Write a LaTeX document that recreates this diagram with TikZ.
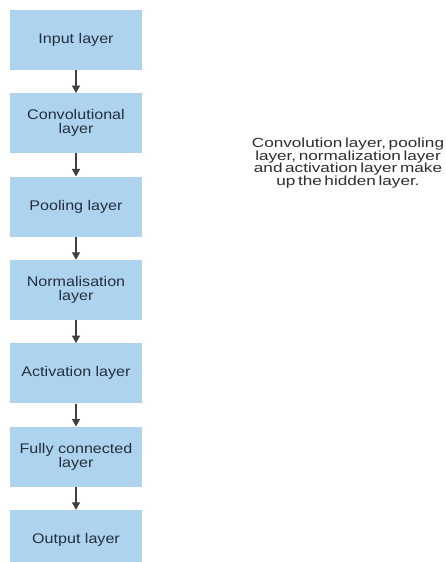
\documentclass[tikz,border=0pt]{standalone}
\usepackage{fontspec}
\setmainfont{Liberation Sans}
\newfontfamily\boxfont[FakeStretch=1.15]{Liberation Sans}
\newfontfamily\notefont[FakeStretch=1.3,WordSpace=0.55]{Liberation Sans}
\newcommand\mynotesetup{\notefont\fontsize{13.2bp}{12.8bp}\selectfont\lineskiplimit=-20bp\relax}
\usetikzlibrary{arrows.meta}
\definecolor{boxblue}{HTML}{AED3EF}
\definecolor{boxtext}{HTML}{22303F}
\definecolor{arrowgray}{HTML}{404040}
\definecolor{notetext}{HTML}{2E2E2E}
\tikzset{
  layerbox/.style={fill=boxblue, draw=none, minimum width=132bp, minimum height=60bp,
    inner sep=0pt, align=center, text=boxtext,
    font=\boxfont\fontsize{14bp}{14bp}\selectfont},
  flowarrow/.style={draw=arrowgray, line width=1.3bp, -{Triangle[length=7.5bp,width=8bp]}},
  notebox/.style={align=center, text=notetext, inner sep=0pt, font=\mynotesetup}
}
\begin{document}
\begin{tikzpicture}[x=1bp,y=-1bp]
\useasboundingbox (0,0) rectangle (446,562);
\clip (0,0) rectangle (446,562);
\fill[white] (0,0) rectangle (446,562);
\node[layerbox] (b1) at (76,40) {Input layer};
\node[layerbox] (b2) at (76,123.3) {Convolutional\\layer};
\node[layerbox] (b3) at (76,206.7) {Pooling layer};
\node[layerbox] (b4) at (76,290) {Normalisation\\layer};
\node[layerbox] (b5) at (76,373.3) {Activation layer};
\node[layerbox] (b6) at (76,456.7) {Fully connected\\layer};
\node[layerbox] (b7) at (76,540) {Output layer};
\draw[flowarrow] (b1) -- (b2);
\draw[flowarrow] (b2) -- (b3);
\draw[flowarrow] (b3) -- (b4);
\draw[flowarrow] (b4) -- (b5);
\draw[flowarrow] (b5) -- (b6);
\draw[flowarrow] (b6) -- (b7);
\node[notebox] (note) at (348,163) {Convolution layer, pooling\\layer, normalization layer\\and activation layer make\\up the hidden layer.};
\end{tikzpicture}
\end{document}
